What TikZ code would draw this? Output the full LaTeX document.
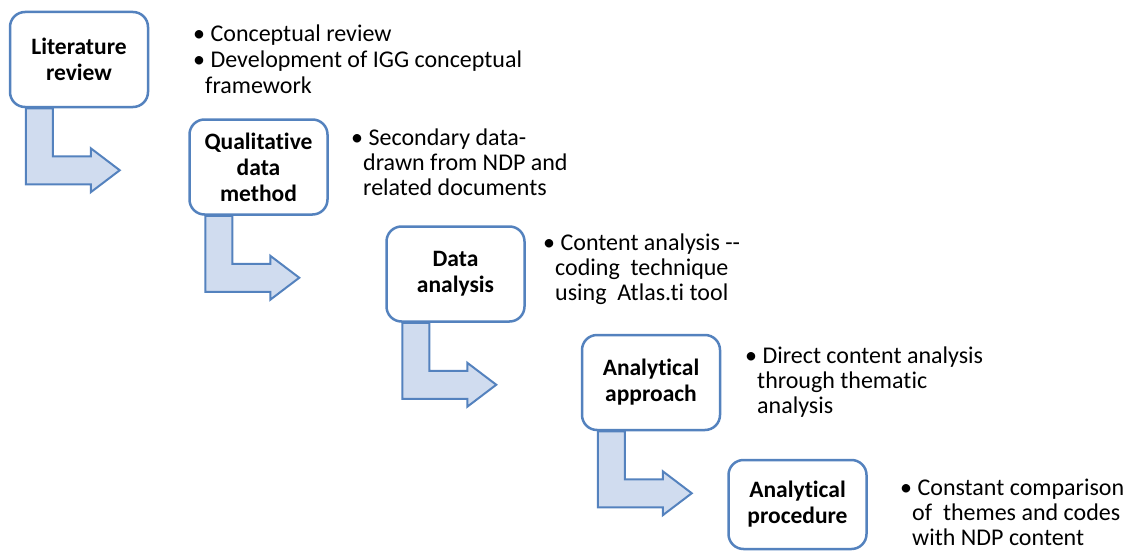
\documentclass[tikz,border=0pt]{standalone}
\usepackage{fontspec}
\setmainfont[Ligatures={TeX,NoCommon}]{Carlito}
\definecolor{boxblue}{RGB}{84,130,190}
\definecolor{arrowfill}{RGB}{208,220,239}

\begin{document}
\begin{tikzpicture}[x=1pt,y=-1pt,
  stepbox/.style={draw=boxblue,line width=2.5pt,fill=white,rounded corners=15pt,
    minimum width=138pt,minimum height=95pt,align=center,inner sep=0pt,
    font=\fontsize{23.5}{26}\selectfont\bfseries},
  bentarrow/.style={draw=boxblue,line width=2pt,fill=arrowfill,line join=miter},
  notes/.style={anchor=base west,align=left,inner sep=0pt,
    font=\fontsize{24}{25}\selectfont}]

\useasboundingbox (0,0) rectangle (1132,551);

\node[stepbox] (1) at (79,59.5) {Literature\\review};

\node[stepbox] (2) at (258.5,167) {Qualitative\\data\\method};

\node[stepbox] (3) at (455.5,274) {Data\\analysis};

\node[stepbox] (4) at (651,382.5) {Analytical\\approach};

\node[stepbox,minimum height=89pt] (5) at (797.5,504.5) {Analytical\\procedure};

% base west = baseline of the last line
\node[notes,font=\fontsize{24}{26}\selectfont] (1n) at (193,93) {\textbullet\ Conceptual review\\\textbullet\ Development of IGG conceptual\\\hspace*{12pt}framework};

\node[notes] (2n) at (351,195) {\textbullet\ Secondary data-\\\hspace*{12pt}drawn from NDP and\\\hspace*{12pt}related documents};

\node[notes] (3n) at (543,300) {\textbullet\ Content analysis -{}-\\\hspace*{12pt}coding\ \ technique\\\hspace*{12pt}using\ \ Atlas.ti tool};

\node[notes] (4n) at (745,413) {\textbullet\ Direct content analysis\\\hspace*{12pt}through thematic\\\hspace*{12pt}analysis};

\node[notes] (5n) at (900,545) {\textbullet\ Constant comparison\\\hspace*{12pt}of\ \ themes and codes\\\hspace*{12pt}with NDP content};

\draw[bentarrow] ([xshift=17pt]1.south west) -- ++(0,76) -- ++(65,0) -- ++(0,8) -- ++(29,-22) -- ++(-29,-22) -- ++(0,8) -- ++(-38,0) -- ++(0,-48) -- cycle;
\draw[bentarrow] ([xshift=17pt]2.south west) -- ++(0,76) -- ++(65,0) -- ++(0,8) -- ++(29,-22) -- ++(-29,-22) -- ++(0,8) -- ++(-38,0) -- ++(0,-48) -- cycle;
\draw[bentarrow] ([xshift=17pt]3.south west) -- ++(0,76) -- ++(65,0) -- ++(0,8) -- ++(29,-22) -- ++(-29,-22) -- ++(0,8) -- ++(-38,0) -- ++(0,-48) -- cycle;
\draw[bentarrow] ([xshift=17pt]4.south west) -- ++(0,76) -- ++(65,0) -- ++(0,8) -- ++(29,-22) -- ++(-29,-22) -- ++(0,8) -- ++(-38,0) -- ++(0,-48) -- cycle;

\end{tikzpicture}
\end{document}
